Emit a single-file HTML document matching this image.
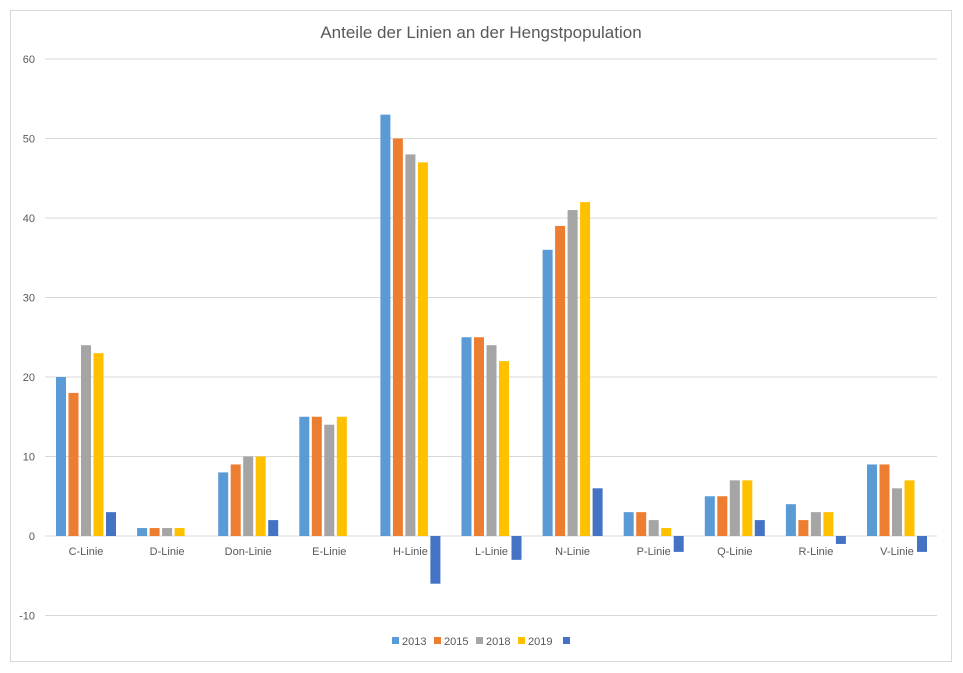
<!DOCTYPE html>
<html><head><meta charset="utf-8"><style>
html,body{margin:0;padding:0;background:#fff;}
svg{display:block;font-family:"Liberation Sans",sans-serif;}
</style></head><body>
<svg id="c" width="963" height="673" xmlns="http://www.w3.org/2000/svg">
<rect x="0" y="0" width="963" height="673" fill="#fff"/>
<rect x="10.5" y="10.5" width="941" height="651" fill="#fff" stroke="#d9d9d9"/>
<text x="481" y="38" text-anchor="middle" font-size="17" fill="#595959">Anteile der Linien an der Hengstpopulation</text>
<g id="g"></g>
</svg>
<script>
var g=document.getElementById('g'),s='';
function y(v){return 536-v*7.95;}
for(var v=-10;v<=60;v+=10){var yy=y(v);
s+='<line x1="45" x2="937" y1="'+yy+'" y2="'+yy+'" stroke="#d9d9d9" stroke-width="1"/>';
s+='<text x="35" y="'+(yy+4)+'" text-anchor="end" font-size="11" fill="#595959">'+v+'</text>';}
var cols=['#5B9BD5','#ED7D31','#A5A5A5','#FFC000','#4472C4'];
var cats=['C-Linie','D-Linie','Don-Linie','E-Linie','H-Linie','L-Linie','N-Linie','P-Linie','Q-Linie','R-Linie','V-Linie'];
var d=[[20,18,24,23,3],[1,1,1,1,0],[8,9,10,10,2],[15,15,14,15,0],[53,50,48,47,-6],[25,25,24,22,-3],[36,39,41,42,6],[3,3,2,1,-2],[5,5,7,7,2],[4,2,3,3,-1],[9,9,6,7,-2]];
for(var i=0;i<11;i++){var cx=86+i*81.1;
for(var j=0;j<5;j++){var v=d[i][j];if(!v)continue;var x=cx-30+j*12.5;
var t=Math.min(y(v),y(0)),h=Math.abs(y(v)-y(0));
s+='<rect x="'+x+'" y="'+t+'" width="10" height="'+h+'" fill="'+cols[j]+'"/>';}
s+='<text x="'+cx+'" y="555" text-anchor="middle" font-size="11" fill="#595959">'+cats[i]+'</text>';}
var lx=[392,434,476,518,563],lt=['2013','2015','2018','2019',''];
for(var j=0;j<5;j++){s+='<rect x="'+lx[j]+'" y="637" width="7" height="7" fill="'+cols[j]+'"/>';
s+='<text x="'+(lx[j]+10)+'" y="645" font-size="11" fill="#595959">'+lt[j]+'</text>';}
g.innerHTML=s;
</script>
</body></html>
